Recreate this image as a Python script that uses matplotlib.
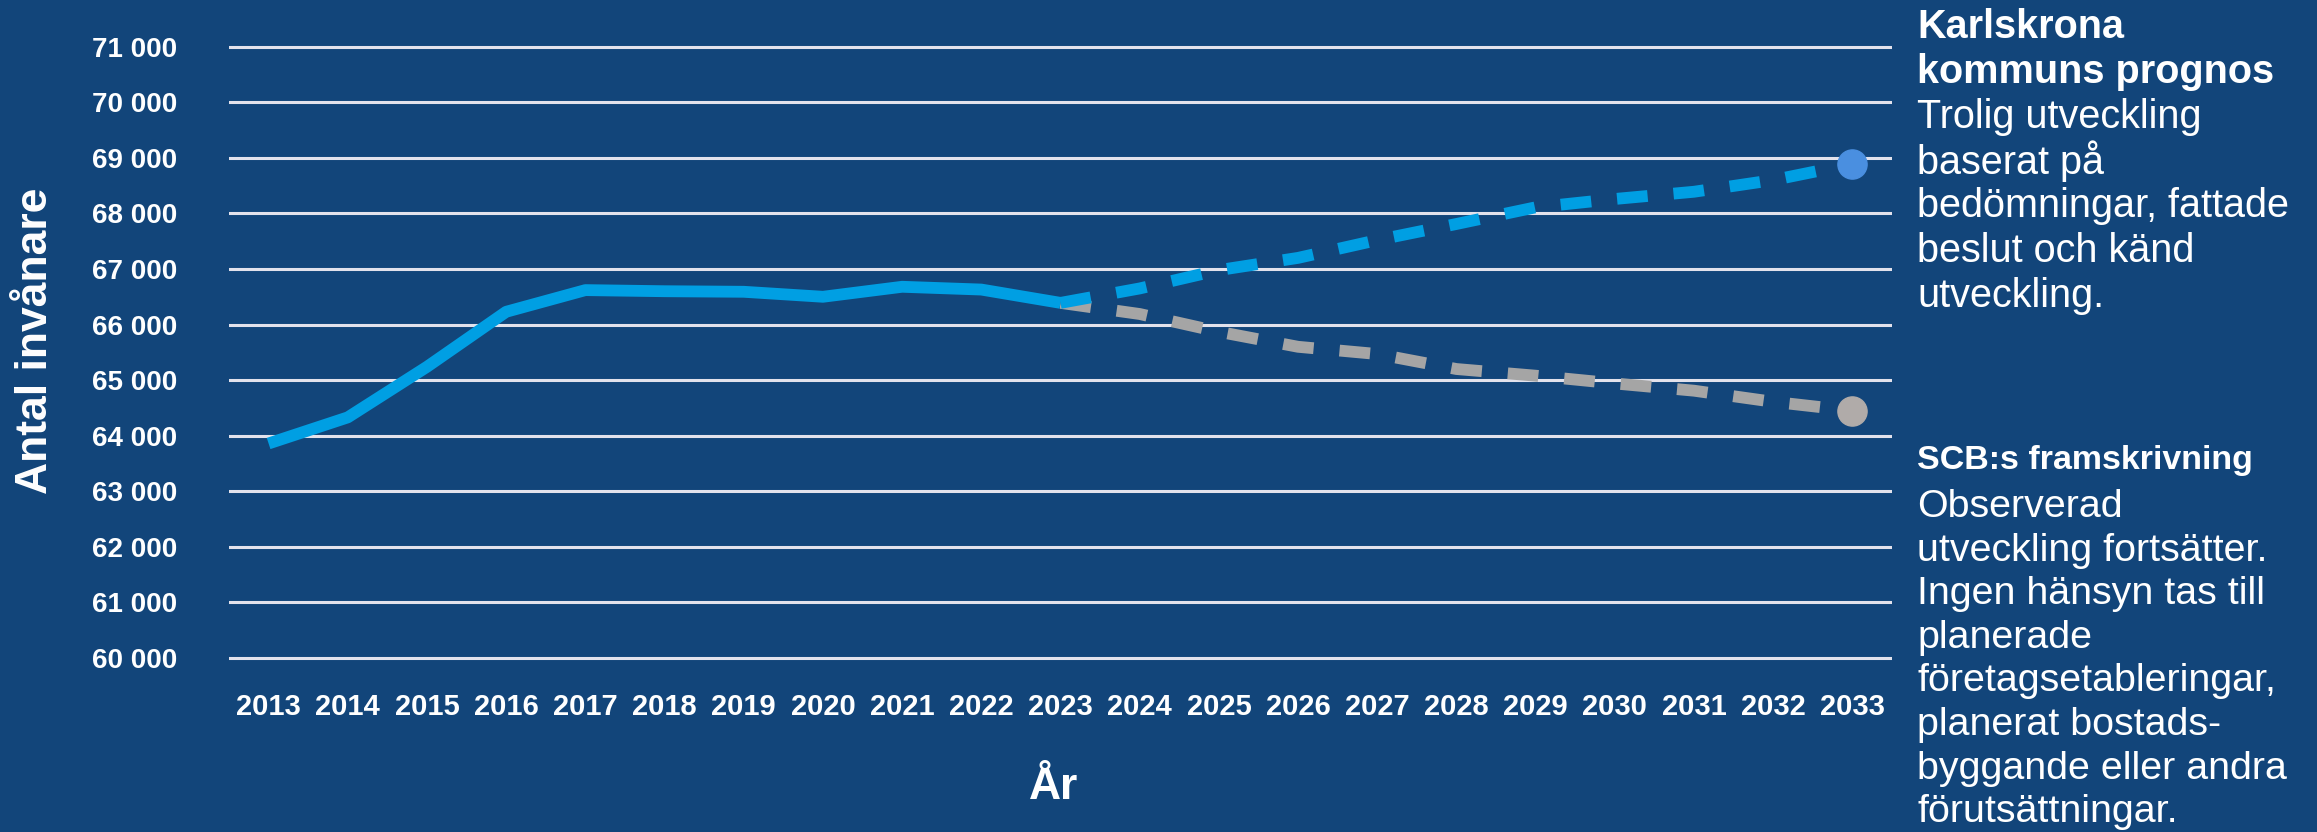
import matplotlib
matplotlib.use("Agg")
import matplotlib.pyplot as plt
from matplotlib.ticker import FuncFormatter

plt.rcParams['font.family'] = ['Liberation Sans', 'DejaVu Sans']

# data
years = list(range(2013, 2034))
utfall_years = years[:11]          # 2013-2023, observed
utfall = [63860, 64330, 65240, 66230, 66620, 66600, 66590, 66500, 66680, 66630, 66390]
prognos_years = years[10:]         # 2023-2033
kommun = [66390, 66650, 66980, 67200, 67520, 67810, 68110, 68260, 68390, 68600, 68890]
scb = [66390, 66190, 65870, 65600, 65470, 65200, 65080, 64940, 64810, 64610, 64450]
yticks = list(range(60000, 72000, 1000))

bg = '#12457A'
W, H = 2317, 832

fig = plt.figure(figsize=(W / 100, H / 100), dpi=100, facecolor=bg)
# axes box in pixels: x 229..1892, y 35.6..669.1
ax = fig.add_axes([229 / W, 1 - 669.1 / H, (1892 - 229) / W, (669.1 - 35.6) / H])
ax.set_facecolor(bg)

xi = {y: i for i, y in enumerate(years)}

ax.plot([xi[y] for y in prognos_years], scb, color='#A5A5A5', lw=8.5,
        dashes=(2.6, 2.2), dash_capstyle='butt', zorder=3)
ax.plot([xi[y] for y in prognos_years], kommun, color='#009FE3', lw=8.5,
        dashes=(2.6, 2.2), dash_capstyle='butt', zorder=4)
ax.plot([xi[y] for y in utfall_years], utfall, color='#009FE3', lw=8.5,
        solid_capstyle='butt', solid_joinstyle='round', zorder=5)
ax.plot([xi[2033]], [kommun[-1]], 'o', ms=21, color='#4A8FE0', zorder=6)
ax.plot([xi[2033]], [scb[-1]], 'o', ms=21, color='#B0ABA9', zorder=6)

ax.set_xlim(-0.5, len(years) - 0.5)
ax.set_ylim(59800, 71200)
ax.set_xticks(range(len(years)))
ax.set_xticklabels([str(y) for y in years])
ax.set_yticks(yticks)
ax.yaxis.set_major_formatter(FuncFormatter(lambda v, p: f"{int(v):,}".replace(",", " ")))
ax.grid(axis='y', color='#E2E2EC', lw=2.2, zorder=1)
ax.grid(axis='x', visible=False)
for s in ax.spines.values():
    s.set_visible(False)
ax.tick_params(axis='both', length=0, colors='white')
ax.tick_params(axis='y', pad=37, labelsize=20)
ax.tick_params(axis='x', pad=17, labelsize=21)
for lab in ax.get_xticklabels() + ax.get_yticklabels():
    lab.set_fontweight('bold')

ax.set_ylabel('Antal invånare', color='white', fontsize=32, fontweight='bold')
ax.yaxis.set_label_coords(-0.104, 0.519)
ax.set_xlabel('År', color='white', fontsize=32, fontweight='bold')
ax.xaxis.set_label_coords(0.496, -0.155)

# right-hand explanation texts
tx = 1917 / W
top_lines = [('Karlskrona', True), ('kommuns prognos', True), ('Trolig utveckling', False),
             ('baserat på', False), ('bedömningar, fattade', False), ('beslut och känd', False),
             ('utveckling.', False)]
for k, (t, b) in enumerate(top_lines):
    fig.text(tx, 1 - (27 + 44.8 * k) / H, t, color='white', fontsize=28.5,
             fontweight='bold' if b else 'normal', va='center', ha='left')

fig.text(tx, 1 - 461 / H, 'SCB:s framskrivning', color='white', fontsize=24.5,
         fontweight='bold', va='center', ha='left')
bottom_lines = ['Observerad', 'utveckling fortsätter.', 'Ingen hänsyn tas till',
                'planerade', 'företagsetableringar,', 'planerat bostads-',
                'byggande eller andra', 'förutsättningar.']
for k, t in enumerate(bottom_lines):
    fig.text(tx, 1 - (507 + 43.6 * k) / H, t, color='white', fontsize=28.4,
             va='center', ha='left')

fig.savefig('out.png', dpi=100, facecolor=bg)
